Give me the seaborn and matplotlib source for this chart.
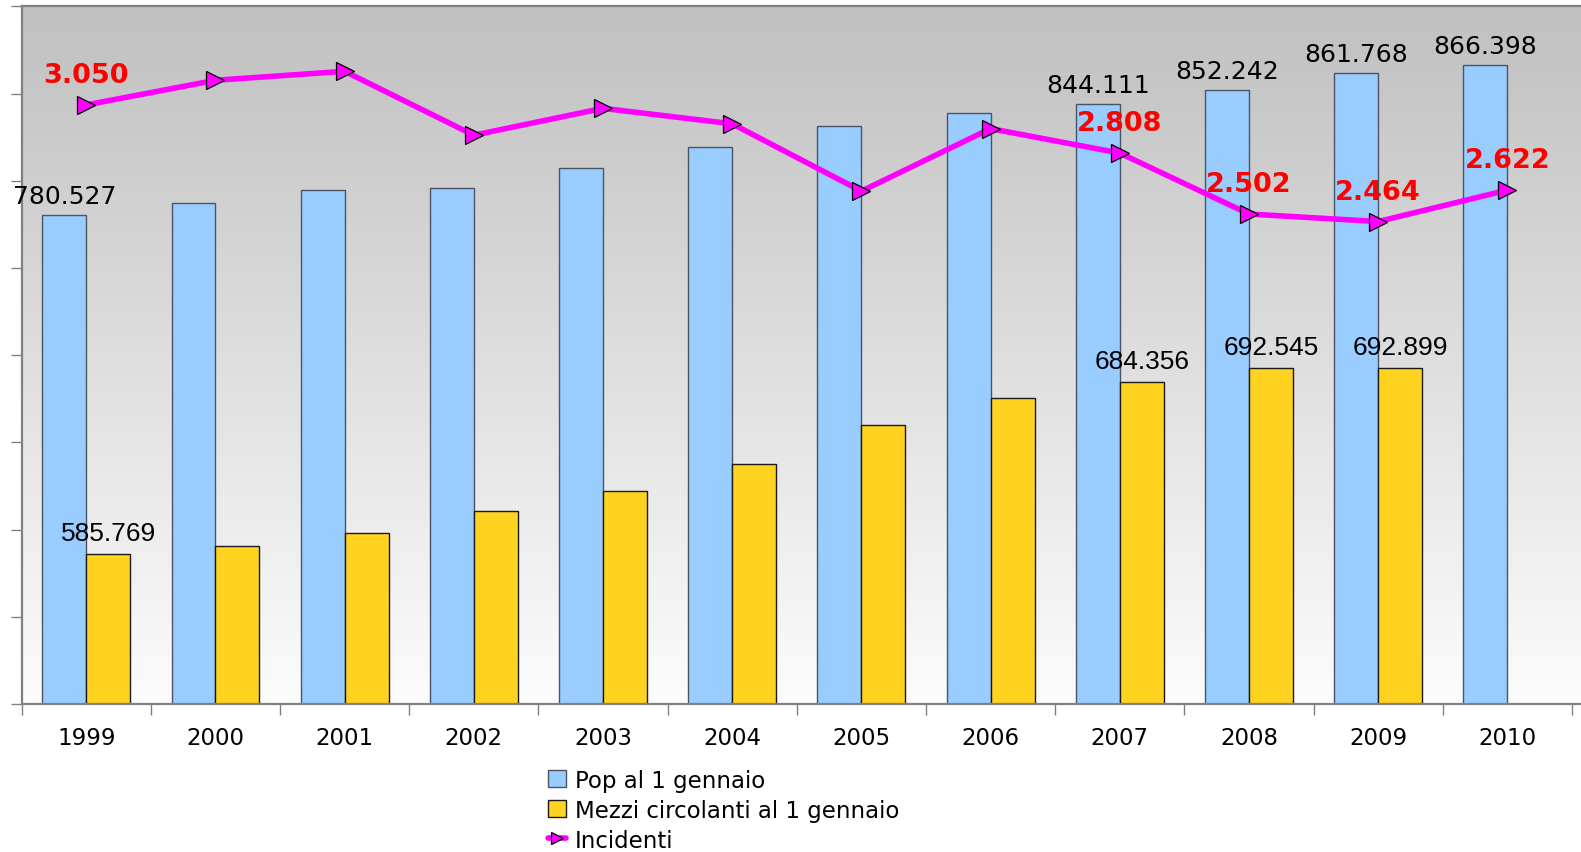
"""Pop, mezzi circolanti e incidenti 1999-2010: barre doppie con linea su asse secondario."""

import matplotlib

matplotlib.use("Agg")

import matplotlib.pyplot as plt
import numpy as np
import pandas as pd
import seaborn as sns

POP = "Pop al 1 gennaio"
MEZZI = "Mezzi circolanti al 1 gennaio"
INC = "Incidenti"

years = ["1999", "2000", "2001", "2002", "2003", "2004",
         "2005", "2006", "2007", "2008", "2009", "2010"]
pop = [780527, 787400, 795000, 795800, 807100, 819200,
       831400, 838800, 844111, 852242, 861768, 866398]
mezzi = [585769, 590500, 597900, 610400, 622400, 637900,
         659700, 675200, 684356, 692545, 692899, np.nan]
incidenti = [3050, 3174, 3219, 2898, 3033, 2955,
             2617, 2931, 2808, 2502, 2464, 2622]

# which years carry a value label
pop_shown = [0, 8, 9, 10, 11]
mezzi_shown = [0, 8, 9, 10]
inc_shown = [0, 8, 9, 10, 11]

BLUE = "#99CCFF"
YELLOW = "#FFD320"
MAGENTA = "#FF00FF"
GRAY = "#808080"
PX = 0.72  # points per pixel at dpi 100


def fmt(v: float) -> str:
    return f"{int(round(v)):,}".replace(",", ".")


def main() -> None:
    sns.set_theme(style="white")
    plt.rcParams["font.family"] = ["DejaVu Sans"]

    bars = pd.DataFrame({"Anno": years, POP: pop, MEZZI: mezzi}).melt(
        id_vars="Anno", var_name="Serie", value_name="Valore"
    )
    line = pd.DataFrame({"Anno": years, INC: incidenti})

    fig = plt.figure(figsize=(15.81, 8.53), dpi=100)
    ax = fig.add_axes([0.0137, 0.1735, 0.9863, 0.8178])
    ax.set_facecolor("white")

    # grey-to-white gradient behind the bars
    grad = np.linspace(0, 1, 256).reshape(-1, 1)
    cmap = matplotlib.colors.LinearSegmentedColormap.from_list(
        "bg", ["#C0C0C0", "#FCFCFC"]
    )
    ax.imshow(grad, extent=[0, 1, 0, 1], transform=ax.transAxes,
              aspect="auto", cmap=cmap, zorder=0, origin="upper")

    sns.barplot(data=bars, x="Anno", y="Valore", hue="Serie", order=years,
                hue_order=[POP, MEZZI], palette={POP: BLUE, MEZZI: YELLOW},
                saturation=1, width=0.68, errorbar=None, ax=ax, zorder=2)
    handles, labels = ax.get_legend_handles_labels()
    if ax.legend_ is not None:
        ax.legend_.remove()

    edge = {0: "#4a5564", 1: "#1a1a1a"}
    for k, container in enumerate(ax.containers):
        for bar in container:
            bar.set_edgecolor(edge[k])
            bar.set_linewidth(1.0)
    for k, h in enumerate(handles[:2]):
        h.set_edgecolor(edge[k])
        h.set_linewidth(1.0)

    # value labels on the bars
    specs = [
        (ax.containers[0], pop, pop_shown, 12,
         dict(fontsize=18, family="DejaVu Sans")),
        (ax.containers[1], mezzi, mezzi_shown, 14,
         dict(fontsize=19, family="Liberation Sans")),
    ]
    for container, values, shown, dy, style in specs:
        for bar in container:
            h = bar.get_height()
            if not np.isfinite(h):
                continue
            i = int(round(bar.get_x() + bar.get_width() / 2))
            if i not in shown:
                continue
            ax.annotate(fmt(values[i]), xy=(bar.get_x() + bar.get_width() / 2, h),
                        xytext=(0, dy * PX), textcoords="offset points",
                        ha="center", va="baseline", color="black", zorder=6,
                        **style)

    ax2 = ax.twinx()
    sns.pointplot(data=line, x="Anno", y=INC, order=years, ax=ax2,
                  color=MAGENTA, markers=">", markersize=13.5, linewidth=4,
                  markeredgecolor="black", markeredgewidth=0.9,
                  errorbar=None, zorder=5)
    for i in inc_shown:
        ax2.annotate(fmt(incidenti[i]), xy=(i, incidenti[i]),
                     xytext=(0, 23 * PX), textcoords="offset points",
                     ha="center", va="baseline", color="#FF0000",
                     fontsize=19.5, fontweight="bold", zorder=7)

    # axes, limits and ticks
    ax.set_xlim(-0.5, 11.57)
    ax.set_ylim(500000, 900000)
    ax2.set_ylim(40, 3545)
    ax.set_xlabel("")
    ax.set_ylabel("")
    ax2.set_xlabel("")
    ax2.set_ylabel("")

    ax.set_yticks(np.arange(500000, 900001, 50000))
    ax.tick_params(axis="y", left=True, length=8, width=1, color=GRAY,
                   labelleft=False, direction="out")
    ax.set_xticks(range(len(years)))
    ax.set_xticklabels(years)
    ax.set_xticks(np.arange(-0.5, 12, 1), minor=True)
    ax.tick_params(axis="x", which="major", length=0, pad=15.5, labelsize=16.5,
                   labelcolor="black")
    ax.tick_params(axis="x", which="minor", bottom=True, length=8, width=1,
                   color=GRAY, direction="out")

    for side in ("left", "top", "bottom"):
        ax.spines[side].set_visible(True)
        ax.spines[side].set_color(GRAY)
        ax.spines[side].set_linewidth(1.6)
    ax.spines["right"].set_visible(False)
    for s in ax2.spines.values():
        s.set_visible(False)
    ax2.tick_params(axis="y", right=False, labelright=False, left=False)
    ax2.tick_params(axis="x", bottom=False, labelbottom=False)

    inc_line = ax2.lines[0]
    fig.legend(handles[:2] + [inc_line], [POP, MEZZI, INC],
               loc="upper left", bbox_to_anchor=(0.3465, 0.0975),
               frameon=False, fontsize=16.5, labelcolor="black",
               borderpad=0, borderaxespad=0,
               handlelength=0.8, handleheight=0.75, handletextpad=0.38,
               labelspacing=0.3, markerscale=0.65)

    fig.savefig("out.png", dpi=100)
    plt.close(fig)


if __name__ == "__main__":
    main()
